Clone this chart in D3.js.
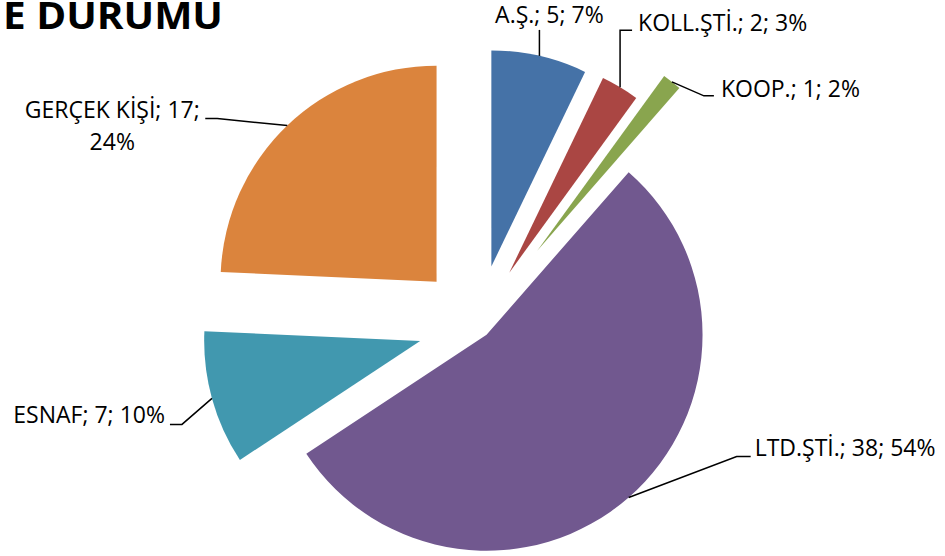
<!DOCTYPE html>
<html>
<head>
<meta charset="utf-8">
<script src="https://cdn.jsdelivr.net/npm/d3@7"></script>
<style>
  html, body { margin: 0; padding: 0; background: #fff; }
  svg { display: block; font-family: "Open Sans", Lato, sans-serif; }
</style>
</head>
<body>
<svg id="chart"></svg>
<script>
// data
const categories = ["A.Ş.", "KOLL.ŞTİ.", "KOOP.", "LTD.ŞTİ.", "ESNAF", "GERÇEK KİŞİ"];
const counts = [5, 2, 1, 38, 7, 17];
const percentLabels = ["7%", "3%", "2%", "54%", "10%", "24%"];
const titleText = "E DURUMU";

const W = 945, H = 556;
const CX = 478, CY = 325, R = 216;
const COLORS = ["#4572A7", "#AA4643", "#89A54E", "#71588F", "#4198AF", "#DB843D"];
// how far each slice is pulled out of the pie
const EXPLODE = [60, 61, 95, 13, 60, 60];
// label placement relative to the leader start on the arc
const LABEL = [
  { pts: [[0, -26]], tx: 10, ty: -33, anchor: "middle" },
  { pts: [[0, -57], [12, -57]], tx: 18, ty: -56, anchor: "start" },
  { pts: [[32, 14], [42, 14]], tx: 49, ty: 15, anchor: "start" },
  { pts: [[108, -41], [122, -41]], tx: 126, ty: -41, anchor: "start" },
  { pts: [[-30, 26], [-42, 26]], tx: -47, ty: 25, anchor: "end" },
  { pts: [[-70, -7], [-82, -7]], tx: -175, ty: -8, anchor: "middle", wrap: true }
];

const data = categories.map((c, i) => ({ name: c, value: counts[i], pct: percentLabels[i], i: i }));

const svg = d3.select("#chart").attr("width", W).attr("height", H);

/* title (cut off on the left in the original) */
svg.append("text")
  .attr("x", 223).attr("y", 29)
  .attr("text-anchor", "end")
  .attr("font-weight", "bold")
  .attr("font-size", 38)
  .attr("textLength", 220)
  .attr("lengthAdjust", "spacingAndGlyphs")
  .attr("fill", "#000")
  .text(titleText);

const pie = d3.pie().sort(null).value(d => d.value);
const arcs = pie(data);
const arc = d3.arc().innerRadius(0).outerRadius(R);

const g = svg.append("g").attr("transform", `translate(${CX},${CY})`);

function offset(a) {
  const mid = (a.startAngle + a.endAngle) / 2;
  const d = EXPLODE[a.data.i];
  return [d * Math.sin(mid), -d * Math.cos(mid)];
}

g.selectAll("path.slice")
  .data(arcs).enter()
  .append("path")
  .attr("class", "slice")
  .attr("transform", d => { const o = offset(d); return `translate(${o[0]},${o[1]})`; })
  .attr("d", arc)
  .attr("fill", d => COLORS[d.data.i]);

/* leader lines and labels */
const labels = g.selectAll("g.label")
  .data(arcs).enter()
  .append("g")
  .attr("class", "label")
  .attr("transform", d => {
    const o = offset(d);
    const mid = (d.startAngle + d.endAngle) / 2;
    return `translate(${o[0] + R * Math.sin(mid)},${o[1] - R * Math.cos(mid)})`;
  });

labels.append("path")
  .attr("fill", "none")
  .attr("stroke", "#000")
  .attr("stroke-width", 1.5)
  .attr("d", d => d3.line()([[0, 0]].concat(LABEL[d.data.i].pts)));

labels.each(function(d) {
  const L = LABEL[d.data.i];
  const t = d3.select(this).append("text")
    .attr("x", L.tx).attr("y", L.ty)
    .attr("text-anchor", L.anchor)
    .attr("font-size", 23)
    .attr("fill", "#000");
  if (L.wrap) {
    t.append("tspan").attr("x", L.tx).text(`${d.data.name}; ${d.data.value};`);
    t.append("tspan").attr("x", L.tx).attr("dy", 32).text(d.data.pct);
  } else {
    t.text(`${d.data.name}; ${d.data.value}; ${d.data.pct}`);
  }
});
</script>
</body>
</html>
